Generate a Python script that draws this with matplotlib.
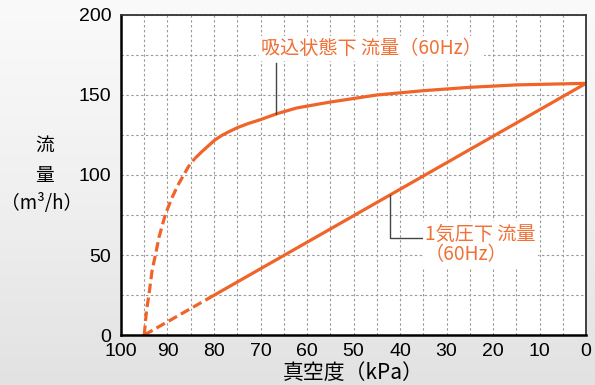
import numpy as np
import matplotlib
matplotlib.use("Agg")
import matplotlib.pyplot as plt
from matplotlib.colors import LinearSegmentedColormap

plt.rcParams['font.family'] = ['Noto Sans CJK JP', 'DejaVu Sans']

# Data
suction_vac = [95, 94.5, 94.0, 93.3, 92.6, 91.8, 90.5, 89.1, 87.7, 85.5, 84.1, 82.6, 81.2,
               79.8, 78.4, 76.9, 74.8, 72.6, 70.0, 66.5, 62.2, 55, 45, 35, 25, 15, 0]
suction_flow = [0, 15.6, 25, 40.6, 50, 61.4, 75, 85.4, 94, 105.2, 110.4, 114.6, 118.3,
                121.9, 124.6, 126.9, 129.8, 132.2, 134.6, 138.3, 141.9, 145.6, 150, 152.7,
                154.8, 156.3, 157.3]
suction_split = 84.1

atm_vac = [95, 0]
atm_flow = [0, 157.3]
atm_split = 81.0

x_ticks = [100, 90, 80, 70, 60, 50, 40, 30, 20, 10, 0]
y_ticks = [0, 50, 100, 150, 200]

orange = '#F0642A'
text_orange = '#F07035'

fig = plt.figure(figsize=(5.95, 3.85), dpi=100)

# background gradient
bg = fig.add_axes([0, 0, 1, 1], zorder=-10)
grad = np.linspace(0, 1, 256).reshape(-1, 1)
cmap = LinearSegmentedColormap.from_list('bg', ['#fafafa', '#f0f0f0', '#e2e2e2'])
bg.imshow(grad, aspect='auto', cmap=cmap, extent=[0, 1, 0, 1], origin='upper')
bg.axis('off')

ax = fig.add_axes([121/595, 1-335/385, 465/595, 320/385])
ax.set_facecolor('white')
ax.set_xlim(100, 0)
ax.set_ylim(0, 200)

ax.set_xticks(x_ticks)
ax.set_yticks(y_ticks)
ax.set_xticks(np.arange(0, 101, 5), minor=True)
ax.set_yticks(np.arange(0, 201, 25), minor=True)
ax.tick_params(which='both', length=0)
ax.tick_params(axis='x', pad=6)
ax.tick_params(axis='y', pad=7)
for lab in ax.get_xticklabels() + ax.get_yticklabels():
    lab.set_fontfamily('Liberation Sans')
    lab.set_fontsize(14)
ax.grid(which='both', color='#9a9a9a', linestyle=(0, (2.2, 2.2)), linewidth=0.8)
ax.set_axisbelow(True)

for s in ['left', 'bottom']:
    ax.spines[s].set_linewidth(1.8)
    ax.spines[s].set_color('black')
for s in ['top', 'right']:
    ax.spines[s].set_linewidth(1.3)
    ax.spines[s].set_color('#333333')

sv = np.array(suction_vac); sf = np.array(suction_flow)
m_d = sv >= suction_split
m_s = sv <= suction_split
ax.plot(sv[m_d], sf[m_d], color=orange, lw=2.3, linestyle=(0, (3.0, 1.4)),
        solid_joinstyle='round', dash_joinstyle='round')
ax.plot(sv[m_s], sf[m_s], color=orange, lw=2.3, solid_capstyle='butt', solid_joinstyle='round')

av = np.array(atm_vac, dtype=float); af = np.array(atm_flow)
split_flow = np.interp(atm_split, av[::-1], af[::-1])
ax.plot([av[0], atm_split], [af[0], split_flow], color=orange, lw=2.3, linestyle=(0, (3.0, 1.4)))
ax.plot([atm_split, av[1]], [split_flow, af[1]], color=orange, lw=2.3)

# annotations
ax.plot([66.6, 66.6], [138.3, 170], color='#444444', lw=1.0, zorder=3)
ax.text(69.8, 179, '吸込状態下 流量（60Hz）', color=text_orange, fontsize=13.8,
        ha='left', va='center', zorder=4,
        bbox=dict(facecolor='white', edgecolor='none', pad=1.5))

ax.plot([42.2, 42.2, 35.3], [87.4, 60.8, 60.8], color='#444444', lw=1.0, zorder=3)
ax.text(34.6, 56.5, '1気圧下 流量\n（60Hz）', color=text_orange, fontsize=13.8,
        ha='left', va='center', linespacing=1.0, zorder=4,
        bbox=dict(facecolor='white', edgecolor='none', pad=1.5))
ax.set_xlabel('真空度（kPa）', fontsize=15, labelpad=1)

fig.text(45/595, 1-145/385, '流', fontsize=13.5, ha='center', va='center')
fig.text(45/595, 1-175/385, '量', fontsize=13.5, ha='center', va='center')
fig.text(42/595, 1-204/385, '（m³/h）', fontsize=13.5, ha='center', va='center')

fig.savefig('out.png', dpi=100)
